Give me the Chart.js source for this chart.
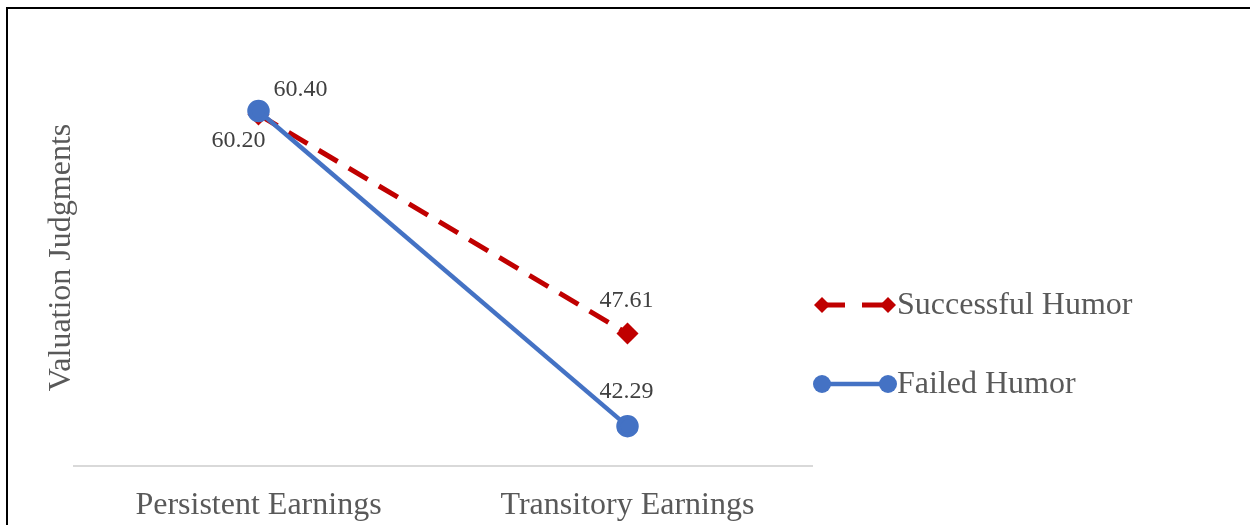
<!DOCTYPE html>
<html>
<head>
<meta charset="utf-8">
<script src="https://cdn.jsdelivr.net/npm/chart.js@4/dist/chart.umd.min.js"></script>
<style>
  html, body { margin: 0; padding: 0; background: #fff; overflow: hidden; }
  #wrap { position: relative; width: 1250px; height: 525px; }
  #frame { position: absolute; left: 6px; top: 7px; right: -10px; bottom: -10px; border-top: 2px solid #000; border-left: 2px solid #000; pointer-events: none; }
  canvas { position: absolute; left: 0; top: 0; }
</style>
</head>
<body>
<div id="wrap">
  <canvas id="c" width="1250" height="525"></canvas>
  <div id="frame"></div>
</div>
<script>
// ---- data ----
const categories = ["Persistent Earnings", "Transitory Earnings"];
const seriesNames = ["Successful Humor", "Failed Humor"];
const successfulHumor = [60.20, 47.61];
const failedHumor = [60.40, 42.29];
const yAxisTitle = "Valuation Judgments";

// ---- styles ----
const FONT = "'Liberation Serif', 'Times New Roman', serif";
const TEXT = '#595959';
const RED = '#c00000';
const BLUE = '#4472c4';
// label offsets (px) relative to each point: [dataset][point]
const labelOffsets = [
  [[-20, 26], [-1, -33]],
  [[42, -21], [-1, -34]]
];

const dataLabelPlugin = {
  id: 'dataLabels',
  afterDatasetsDraw(chart) {
    const ctx = chart.ctx;
    ctx.save();
    ctx.font = '24px ' + FONT;
    ctx.fillStyle = '#404040';
    ctx.textAlign = 'center';
    ctx.textBaseline = 'middle';
    chart.data.datasets.forEach((ds, di) => {
      const meta = chart.getDatasetMeta(di);
      meta.data.forEach((pt, i) => {
        const off = labelOffsets[di][i];
        ctx.fillText(ds.data[i].toFixed(2), pt.x + off[0], pt.y + off[1]);
      });
    });
    ctx.restore();
  }
};

const yTitlePlugin = {
  id: 'yTitle',
  afterDraw(chart) {
    const ctx = chart.ctx;
    const area = chart.chartArea;
    ctx.save();
    ctx.translate(62, (area.top + area.bottom) / 2 + 9);
    ctx.rotate(-Math.PI / 2);
    ctx.font = '32px ' + FONT;
    ctx.fillStyle = TEXT;
    ctx.textAlign = 'center';
    ctx.textBaseline = 'middle';
    ctx.fillText(yAxisTitle, 0, 0);
    ctx.restore();
  }
};

const legendPlugin = {
  id: 'customLegend',
  afterDraw(chart) {
    const ctx = chart.ctx;
    const x0 = 822, x1 = 888, tx = 897;
    const ys = [305, 384];
    ctx.save();
    chart.data.datasets.forEach((ds, di) => {
      const y = ys[di];
      ctx.strokeStyle = ds.borderColor;
      ctx.lineWidth = ds.borderWidth;
      ctx.setLineDash(ds.borderDash ? [23, 17] : []);
      ctx.beginPath();
      ctx.moveTo(x0, y); ctx.lineTo(x1, y);
      ctx.stroke();
      ctx.setLineDash([]);
      ctx.fillStyle = ds.pointBackgroundColor;
      [x0, x1].forEach(x => {
        ctx.beginPath();
        if (ds.pointStyle === 'rectRot') {
          const r = 8;
          ctx.moveTo(x, y - r); ctx.lineTo(x + r, y); ctx.lineTo(x, y + r); ctx.lineTo(x - r, y);
          ctx.closePath();
        } else {
          ctx.arc(x, y, 9, 0, Math.PI * 2);
        }
        ctx.fill();
      });
      ctx.font = '32px ' + FONT;
      ctx.fillStyle = TEXT;
      ctx.textAlign = 'left';
      ctx.textBaseline = 'middle';
      ctx.fillText(ds.label, tx, y + 1);
    });
    ctx.restore();
  }
};

new Chart(document.getElementById('c'), {
  type: 'line',
  data: {
    labels: categories,
    datasets: [
      {
        label: seriesNames[0],
        data: successfulHumor,
        borderColor: RED,
        backgroundColor: RED,
        pointBackgroundColor: RED,
        pointBorderColor: RED,
        borderWidth: 5,
        borderDash: [22, 13],
        pointStyle: 'rectRot',
        pointRadius: 7.5,
        pointHoverRadius: 7.5,
        order: 1,
        tension: 0
      },
      {
        label: seriesNames[1],
        data: failedHumor,
        borderColor: BLUE,
        backgroundColor: BLUE,
        pointBackgroundColor: BLUE,
        pointBorderColor: BLUE,
        borderWidth: 4.5,
        pointStyle: 'circle',
        pointRadius: 9,
        pointHoverRadius: 9,
        order: 0,
        tension: 0
      }
    ]
  },
  options: {
    responsive: false,
    animation: false,
    events: [],
    layout: { padding: { left: 12, right: 438, top: 31, bottom: 0 } },
    plugins: { legend: { display: false }, tooltip: { enabled: false } },
    scales: {
      x: {
        offset: true,
        grid: { display: false, drawTicks: false },
        border: { display: true, color: '#d9d9d9', width: 2 },
        ticks: { color: TEXT, font: { family: FONT, size: 32 }, padding: 20 },
        afterFit(scale) { scale.height = 59; }
      },
      y: {
        min: 40,
        max: 65,
        grid: { display: false, drawTicks: false },
        border: { display: false },
        ticks: { display: false },
        title: { display: false },
        afterFit(scale) { scale.width = 62; }
      }
    }
  },
  plugins: [dataLabelPlugin, yTitlePlugin, legendPlugin]
});
</script>
</body>
</html>
